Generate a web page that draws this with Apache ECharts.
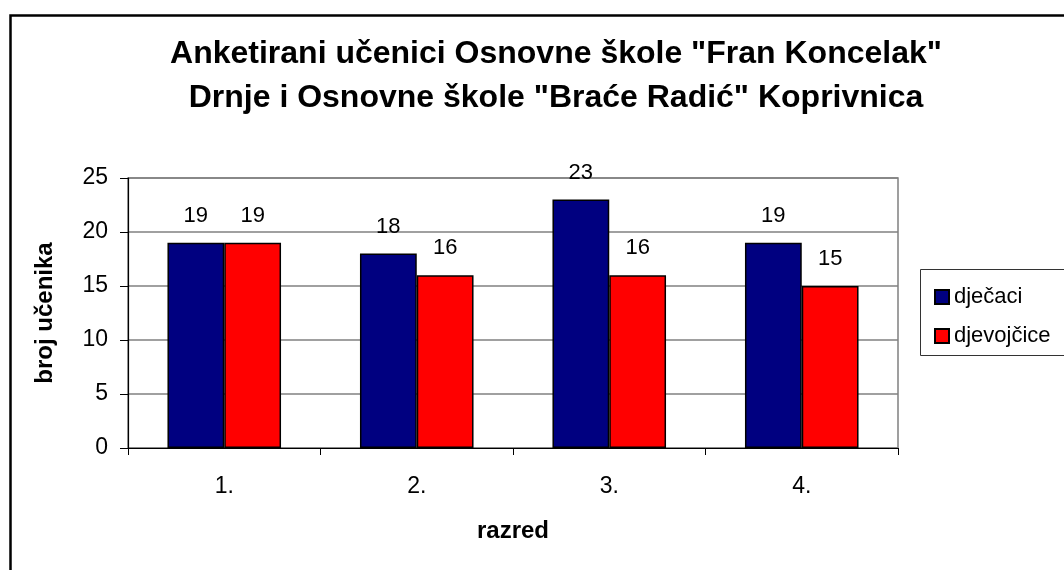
<!DOCTYPE html>
<html>
<head>
<meta charset="utf-8">
<script src="https://cdn.jsdelivr.net/npm/echarts@6/dist/echarts.min.js"></script>
<style>html,body{margin:0;padding:0;background:#fff;}#c{width:1064px;height:570px;}</style>
</head>
<body>
<div id="c"></div>
<script>
const titleText = 'Anketirani učenici Osnovne škole "Fran Koncelak"\nDrnje i Osnovne škole "Braće Radić" Koprivnica';
const categories = ['1.', '2.', '3.', '4.'];
const seriesNames = ['dječaci', 'djevojčice'];
const boys = [19, 18, 23, 19];
const girls = [19, 16, 16, 15];
const yTicks = [0, 5, 10, 15, 20, 25];
const xName = 'razred';
const yName = 'broj učenika';

const FONT = '"Liberation Sans", Arial, sans-serif';
const chart = echarts.init(document.getElementById('c'));
const labelStyle = { show: true, position: 'top', distance: 16, fontSize: 22, color: '#000', fontFamily: FONT };
chart.setOption({
  animation: false,
  backgroundColor: '#fff',
  textStyle: { fontFamily: FONT },
  title: {
    text: titleText,
    left: 551, top: 27, textAlign: 'center',
    textStyle: { fontSize: 32, fontWeight: 'bold', color: '#000', fontFamily: FONT, lineHeight: 44 }
  },
  legend: {
    orient: 'vertical', left: 929, top: 281, itemGap: 17,
    itemWidth: 14, itemHeight: 14, icon: 'rect',
    textStyle: { fontSize: 22, color: '#000', fontFamily: FONT, padding: [0, 0, 0, 0] },
    data: seriesNames
  },
  grid: { left: 128, right: 166, top: 178, bottom: 122, show: true, borderColor: '#808080', borderWidth: 1.5 },
  xAxis: {
    type: 'category', data: categories,
    name: xName, nameLocation: 'middle', nameGap: 71,
    nameTextStyle: { fontSize: 24, fontWeight: 'bold', color: '#000', fontFamily: FONT },
    axisLine: { lineStyle: { color: '#000', width: 1.2 } },
    axisTick: { show: true, alignWithLabel: false, length: 7, lineStyle: { color: '#000' } },
    axisLabel: { fontSize: 23, color: '#000', margin: 27, fontFamily: FONT }
  },
  yAxis: {
    type: 'value', min: yTicks[0], max: yTicks[yTicks.length - 1], interval: yTicks[1] - yTicks[0],
    name: yName, nameLocation: 'middle', nameGap: 71, nameRotate: 90,
    nameTextStyle: { fontSize: 24, fontWeight: 'bold', color: '#000', fontFamily: FONT },
    axisLine: { show: true, lineStyle: { color: '#000', width: 1.2 } },
    axisTick: { show: true, length: 8, lineStyle: { color: '#000' } },
    axisLabel: { fontSize: 23, color: '#000', margin: 20, fontFamily: FONT },
    splitLine: { show: true, lineStyle: { color: '#808080', width: 1.5 } }
  },
  series: [
    { name: seriesNames[0], type: 'bar', data: boys, barGap: '0%', barCategoryGap: '41%',
      itemStyle: { color: '#000080', borderColor: '#000', borderWidth: 1.5 }, label: labelStyle },
    { name: seriesNames[1], type: 'bar', data: girls, barGap: '0%', barCategoryGap: '41%',
      itemStyle: { color: '#ff0000', borderColor: '#000', borderWidth: 1.5 }, label: labelStyle }
  ],
  graphic: [
    { type: 'rect', left: 8, top: 13, shape: { x: 0, y: 0, width: 1100, height: 620 },
      style: { fill: 'none', stroke: '#000', lineWidth: 2.5 }, silent: true },
    { type: 'rect', shape: { x: 920.5, y: 269.5, width: 200, height: 86 },
      style: { fill: 'none', stroke: '#333', lineWidth: 1 }, silent: true, z: -1 }
  ]
});
</script>
</body>
</html>
